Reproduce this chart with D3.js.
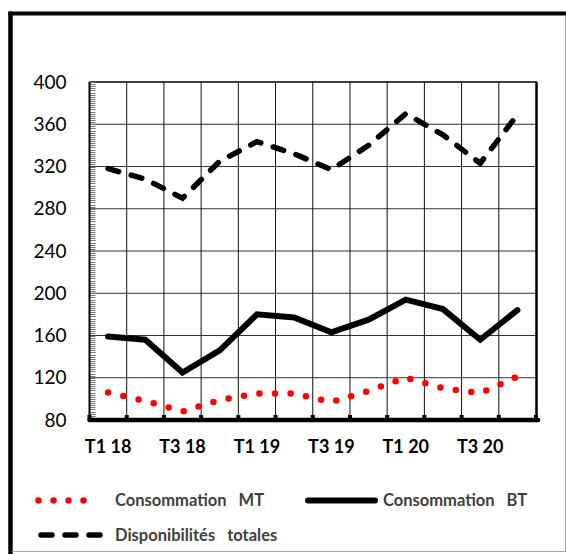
<!DOCTYPE html>
<html><head><meta charset="utf-8">
<script src="https://cdn.jsdelivr.net/npm/d3@7"></script>
<style>html,body{margin:0;padding:0;background:#fff;}svg{display:block;}</style>
</head><body>
<svg id="c" width="566" height="554"></svg>
<script>
const categories = ["T1 18","T2 18","T3 18","T4 18","T1 19","T2 19","T3 19","T4 19","T1 20","T2 20","T3 20","T4 20"];
const shownLabels = ["T1 18","T3 18","T1 19","T3 19","T1 20","T3 20"];
const yTicks = [80,120,160,200,240,280,320,360,400];
const consoMT = [106,98,88,99,105,105,97,107.5,120,110,105.5,121];
const consoBT = [159,156,125,146,180,177,163,175,194,185,156,184];
const dispoTot = [318,308,290,325,343.5,332,317,340,370,350,323,369];
const seriesNames = ["Consommation   MT","Consommation   BT","Disponibilités   totales"];

const svg = d3.select("#c");
const font = "Lato, 'Open Sans', sans-serif";
const L = 89.5, R = 536, T = 82, B = 420;

// outer frame
svg.append("line").attr("x1",10.5).attr("x2",10.5).attr("y1",11.5).attr("y2",554).attr("stroke","#000").attr("stroke-width",4.5);
svg.append("line").attr("x1",8.5).attr("x2",566).attr("y1",13.5).attr("y2",13.5).attr("stroke","#000").attr("stroke-width",4);
svg.append("line").attr("x1",565.5).attr("x2",565.5).attr("y1",15).attr("y2",552).attr("stroke","#aaa").attr("stroke-width",1);
svg.append("line").attr("x1",12).attr("x2",566).attr("y1",551.5).attr("y2",551.5).attr("stroke","#aaa").attr("stroke-width",1);

const x = d3.scaleBand().domain(categories).range([L,R]).padding(0);
const y = d3.scaleLinear().domain([80,400]).range([B,T]);
const cx = d => x(d) + x.bandwidth()/2;

// horizontal grid
svg.append("g").selectAll("line").data(yTicks.filter(v=>v>80 && v<400)).join("line")
  .attr("x1",L).attr("x2",R).attr("y1",d=>y(d)).attr("y2",d=>y(d))
  .attr("stroke","#333").attr("stroke-width",1);
// vertical grid at category boundaries
const bounds = categories.map(c=>x(c)).slice(1);
svg.append("g").selectAll("line").data(bounds).join("line")
  .attr("x1",d=>d).attr("x2",d=>d).attr("y1",T).attr("y2",B)
  .attr("stroke","#111").attr("stroke-width",1);
// top & right border of plot
svg.append("line").attr("x1",L).attr("x2",R+1).attr("y1",T).attr("y2",T).attr("stroke","#000").attr("stroke-width",1.5);
svg.append("line").attr("x1",R+0.5).attr("x2",R+0.5).attr("y1",T).attr("y2",B).attr("stroke","#000").attr("stroke-width",2.5);

// minor hatching on left axis
svg.append("g").selectAll("line").data(d3.range(80,401,2)).join("line")
  .attr("x1",L).attr("x2",L+6).attr("y1",d=>Math.round(y(d))+0.5).attr("y2",d=>Math.round(y(d))+0.5)
  .attr("stroke","#777").attr("stroke-width",1);
svg.append("line").attr("x1",L).attr("x2",L).attr("y1",T).attr("y2",B).attr("stroke","#000").attr("stroke-width",2);

// y axis labels
const ya = svg.append("g").attr("transform",`translate(${L},0)`)
  .call(d3.axisLeft(y).tickValues(yTicks).tickSize(0).tickPadding(23).tickFormat(d3.format("d")));
ya.select(".domain").remove();
ya.selectAll("text").attr("font-family",font).attr("font-size",19).attr("fill","#000");

// x axis
const xa = svg.append("g").attr("transform",`translate(0,${B})`)
  .call(d3.axisBottom(x).tickValues(shownLabels).tickSize(0).tickPadding(20));
xa.select(".domain").remove();
xa.selectAll("text").attr("font-family",font).attr("font-size",18).attr("font-weight","bold").attr("fill","#000");
// boundary ticks
svg.append("g").selectAll("rect").data(categories.map(c=>x(c)).concat([R])).join("rect")
  .attr("x",d=>d-2).attr("y",B-5).attr("width",4).attr("height",5).attr("fill","#000");
svg.append("line").attr("x1",L).attr("x2",R+2).attr("y1",B).attr("y2",B)
  .attr("stroke","#000").attr("stroke-width",4.5).attr("stroke-linecap","round");

// series
const line = vals => d3.line().x((d,i)=>cx(categories[i])).y(d=>y(d))(vals);
svg.append("path").attr("d",line(dispoTot)).attr("fill","none").attr("stroke","#000")
  .attr("stroke-width",5.5).attr("stroke-linecap","round").attr("stroke-dasharray","11,13");
svg.append("path").attr("d",line(consoBT)).attr("fill","none").attr("stroke","#000")
  .attr("stroke-width",6).attr("stroke-linecap","round").attr("stroke-linejoin","miter");
svg.append("path").attr("d",line(consoMT)).attr("fill","none").attr("stroke","#ff0000")
  .attr("stroke-width",6.5).attr("stroke-linecap","round").attr("stroke-dasharray","0,15.6");

// legend
const lg = svg.append("g");
lg.append("line").attr("x1",38.5).attr("x2",98.5).attr("y1",500.5).attr("y2",500.5)
  .attr("stroke","#ff0000").attr("stroke-width",6.5).attr("stroke-linecap","round").attr("stroke-dasharray","0,15");
lg.append("line").attr("x1",308).attr("x2",375).attr("y1",500.5).attr("y2",500.5)
  .attr("stroke","#000").attr("stroke-width",6).attr("stroke-linecap","round");
lg.append("line").attr("x1",41).attr("x2",101).attr("y1",535).attr("y2",535)
  .attr("stroke","#000").attr("stroke-width",5.5).attr("stroke-linecap","round").attr("stroke-dasharray","11,13");
const lgText = [[115,500.5],[383,500.5],[115,535]];
lg.selectAll("text").data(seriesNames).join("text")
  .attr("x",(d,i)=>lgText[i][0]).attr("y",(d,i)=>lgText[i][1]).attr("dy","0.35em")
  .attr("font-family",font).attr("font-size",16.5).attr("font-weight","bold").attr("fill","#404040")
  .attr("xml:space","preserve").style("white-space","pre").text(d=>d);
</script>
</body></html>
